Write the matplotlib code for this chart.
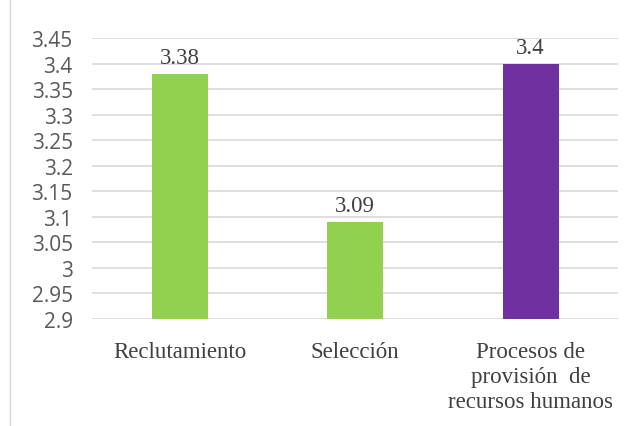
import matplotlib.pyplot as plt
from matplotlib.patches import Rectangle

categories = ['Reclutamiento', 'Selección', 'Procesos de\nprovisión  de\nrecursos humanos']
values = [3.38, 3.09, 3.40]
labels = ['3.38', '3.09', '3.4']
colors = ['#92D050', '#92D050', '#7030A0']
yticks = [2.9, 2.95, 3.0, 3.05, 3.1, 3.15, 3.2, 3.25, 3.3, 3.35, 3.4, 3.45]
ytick_labels = ['2.9', '2.95', '3', '3.05', '3.1', '3.15', '3.2', '3.25', '3.3', '3.35', '3.4', '3.45']

fig = plt.figure(figsize=(6.4, 4.27), dpi=100)
ax = fig.add_axes([0.144, 0.2506, 0.822, 0.6581])

x = range(len(categories))
ax.bar(x, values, width=0.32, color=colors, zorder=3)
for xi, v, lab in zip(x, values, labels):
    ax.annotate(lab, (xi, v), xytext=(0, 4), textcoords='offset points',
                ha='center', va='bottom', family='Liberation Serif',
                fontsize=16.5, color='#404040')

ax.set_xlim(-0.5, 2.5)
ax.set_ylim(2.9, 3.45)
ax.set_yticks(yticks)
ax.set_yticklabels(ytick_labels, family='Open Sans', fontsize=15, color='#595959')
ax.set_xticks(list(x))
ax.set_xticklabels(categories, family='Liberation Serif', fontsize=16.5, color='#404040',
                   linespacing=1.25)
ax.tick_params(length=0, axis='both')
ax.tick_params(axis='y', pad=14)
ax.tick_params(axis='x', pad=16)
ax.grid(axis='y', color='#D9D9D9', linewidth=1.2, zorder=0)
for s in ax.spines.values():
    s.set_visible(False)

fig.patches.append(Rectangle((0.016, -0.01), 0.99, 1.02, transform=fig.transFigure,
                             fill=False, edgecolor='#D9D9D9', linewidth=1))

fig.savefig('out.png', dpi=100)
